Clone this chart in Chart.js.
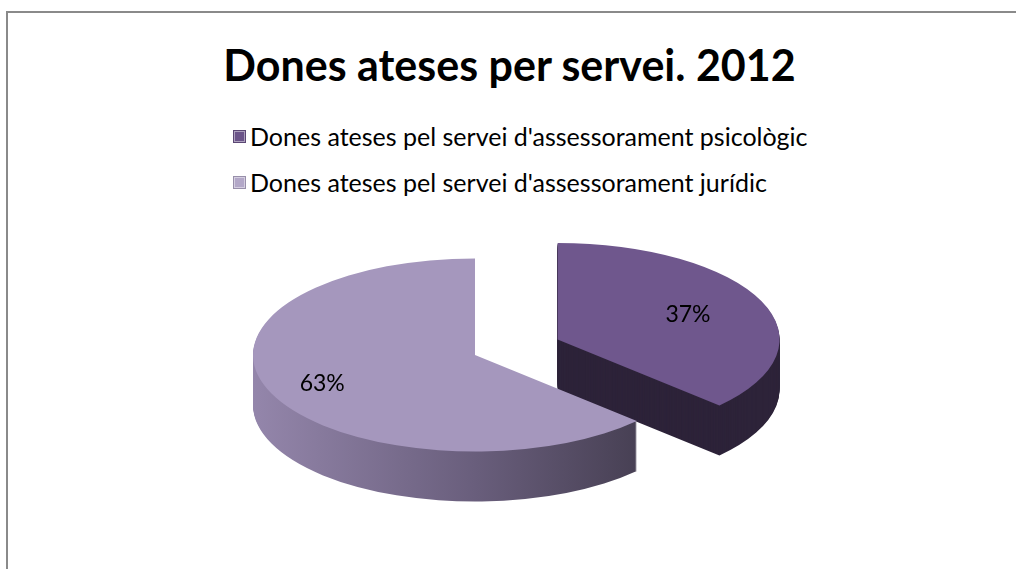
<!DOCTYPE html>
<html>
<head>
<meta charset="utf-8">
<script src="https://cdn.jsdelivr.net/npm/chart.js@4/dist/chart.umd.min.js"></script>
<style>
  html, body { margin: 0; padding: 0; background: #fff; overflow: hidden; }
  #wrap { position: relative; width: 1016px; height: 569px; }
  #frame { position: absolute; left: 6px; top: 11px; width: 1030px; height: 580px; border: 2px solid #8a8a8a; }
  #title { position: absolute; left: 0; width: 1019px; top: 39px; text-align: center;
           font: bold 43px Lato, sans-serif; color: #000; white-space: nowrap; }
  #legend { position: absolute; left: 233px; top: 113px; font: 25px Lato, sans-serif; color: #000; }
  #legend div { position: relative; height: 46px; line-height: 46px; white-space: nowrap; padding-left: 17px; }
  #legend span.box { position: absolute; left: 0; top: 17px; width: 11px; height: 11px;
                     box-shadow: inset 0 0 0 1px rgba(255,255,255,0.45); border: 1px solid rgba(0,0,0,0.15); }
  canvas { position: absolute; left: 0; top: 0; }
</style>
</head>
<body>
<div id="wrap">
  <div id="frame"></div>
  <div id="title"></div>
  <div id="legend"></div>
  <canvas id="pie" width="1016" height="569"></canvas>
</div>
<script>
document.addEventListener("DOMContentLoaded", function() {
    // Dades
    var titol = "Dones ateses per servei. 2012";
    var categories = [
        "Dones ateses pel servei d'assessorament psicològic",
        "Dones ateses pel servei d'assessorament jurídic"
    ];
    var valors = [37, 63];

    // Colors
    var colorsCara = ["#6f578d", "#a597bd"];
    var colorsMarca = ["#6b5489", "#b3a8c8"];

    // Efecte 3D
    var INCLINACIO = 0.435;
    var GRUIX = 50;
    var SEPARACIO = [90, 0];
    var RADI_ETIQUETA = [0.64, 0.75];

    document.getElementById("title").textContent = titol;
    var legend = document.getElementById("legend");
    categories.forEach(function(c, i) {
        var row = document.createElement("div");
        var box = document.createElement("span");
        box.className = "box";
        box.style.background = colorsMarca[i];
        row.appendChild(box);
        row.appendChild(document.createTextNode(c));
        legend.appendChild(row);
    });

    var total = valors.reduce(function(a, b) { return a + b; }, 0);

    var pie3d = {
        id: "pie3d",
        beforeDatasetsDraw: function(chart) {
            var ctx = chart.ctx;
            var arcs = chart.getDatasetMeta(0).data;
            var cx = arcs[0].x, cy = arcs[0].y, r = arcs[0].outerRadius;

            var gradGran = ctx.createLinearGradient(cx - r, 0, cx + r, 0);
            gradGran.addColorStop(0, "#9486ab");
            gradGran.addColorStop(0.5, "#695e7c");
            gradGran.addColorStop(1, "#3b3545");
            var colorsCostat = ["#2d2339", gradGran];

            function pinta(arc, i, dy, fill) {
                var mid = (arc.startAngle + arc.endAngle) / 2;
                ctx.save();
                ctx.translate(0, dy);
                ctx.translate(cx, cy);
                ctx.scale(1, INCLINACIO);
                ctx.translate(-cx, -cy);
                ctx.translate(Math.cos(mid) * SEPARACIO[i], Math.sin(mid) * SEPARACIO[i]);
                var tmp = Object.create(arc);
                tmp.options = Object.assign({}, arc.options, { backgroundColor: fill, borderWidth: 0 });
                tmp.draw(ctx);
                ctx.restore();
            }

            // costats
            for (var d = GRUIX; d >= 1; d--) {
                arcs.forEach(function(arc, i) { pinta(arc, i, d, colorsCostat[i]); });
            }
            // cares superiors
            arcs.forEach(function(arc, i) { pinta(arc, i, 0, colorsCara[i]); });

            // etiquetes
            ctx.save();
            ctx.font = "23px Lato, sans-serif";
            ctx.fillStyle = "#000";
            ctx.textAlign = "center";
            ctx.textBaseline = "middle";
            arcs.forEach(function(arc, i) {
                var mid = (arc.startAngle + arc.endAngle) / 2;
                var dist = arc.outerRadius * RADI_ETIQUETA[i] + SEPARACIO[i];
                var x = cx + Math.cos(mid) * dist;
                var y = cy + Math.sin(mid) * dist * INCLINACIO;
                ctx.fillText(Math.round(valors[i] / total * 100) + "%", x, y);
            });
            ctx.restore();
            return false;
        }
    };

    new Chart(document.getElementById("pie"), {
        type: "pie",
        data: {
            labels: categories,
            datasets: [{
                data: valors,
                backgroundColor: colorsCara,
                borderWidth: 0,
                clip: false
            }]
        },
        options: {
            responsive: false,
            devicePixelRatio: 1,
            animation: false,
            radius: 222,
            layout: { padding: { left: 0, right: 66, top: 141, bottom: 0 } },
            plugins: {
                legend: { display: false },
                title: { display: false },
                tooltip: { enabled: false }
            }
        },
        plugins: [pie3d]
    });
});
</script>
</body>
</html>
